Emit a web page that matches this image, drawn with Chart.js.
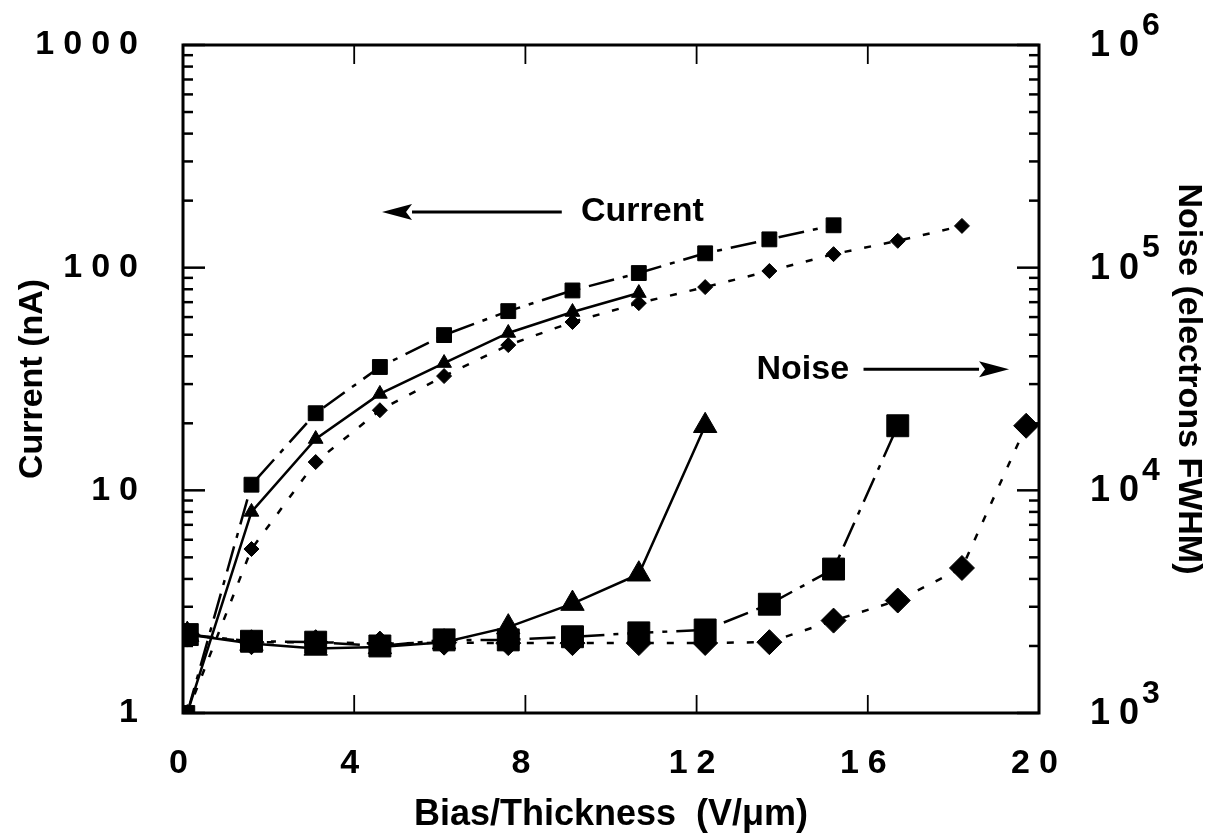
<!DOCTYPE html>
<html>
<head>
<meta charset="utf-8">
<script src="https://cdn.jsdelivr.net/npm/chart.js@4.4.1/dist/chart.umd.min.js"></script>
<style>
  html, body { margin: 0; padding: 0; background: #fff; }
  #wrap { width: 1209px; height: 837px; position: relative; }
</style>
</head>
<body>
<div id="wrap"><canvas id="chart"></canvas></div>
<script>
// bias / thickness (V/um) sample points, shared by every series
const biasX = [0.1, 1.6, 3.1, 4.6, 6.1, 7.6, 9.1, 10.65, 12.2, 13.7, 15.2, 16.7, 18.2, 19.7];

// current (nA), left axis
const currentSquare = [1, 10.6, 22.2, 35.8, 49.8, 63.8, 79, 94.6, 116, 134, 155];
const currentTriangle = [1, 8.0, 17, 27.1, 37.3, 50.9, 63.2, 76.9];
const currentDiamond = [1, 5.45, 13.4, 22.9, 32.6, 44.9, 57, 69.3, 81.8, 96.6, 115, 132, 154];

// noise (electrons FWHM), right axis
const noiseTriangle = [2250, 2050, 1950, 1980, 2080, 2430, 3100, 4200, 19500];
const noiseSquare = [2250, 2100, 2080, 2000, 2130, 2130, 2200, 2290, 2360, 3080, 4430, 19500];
const noiseDiamond = [2250, 2080, 2080, 2050, 2070, 2060, 2060, 2060, 2063, 2080, 2600, 3200, 4480, 19500];

// tick labels
const xTicks = [0, 4, 8, 12, 16, 20];
const xTickLabels = ['0', '4', '8', '12', '16', '20'];
const currentTicks = [1, 10, 100, 1000];
const currentTickLabels = ['1', '10', '100', '1000'];
const noiseTicks = [1e3, 1e4, 1e5, 1e6];
const noiseTickBase = '10';
const noiseTickExp = ['3', '4', '5', '6'];

const FONT = '"Liberation Sans", Arial, Helvetica, sans-serif';
const INK = '#000';

function pts(ys) {
    return ys.map((v, i) => ({ x: biasX[i], y: v }));
}

function series(ys, axis, style, radius, dash) {
    return {
        data: pts(ys),
        yAxisID: axis,
        borderColor: INK,
        backgroundColor: INK,
        borderWidth: 2.5,
        borderDash: dash,
        pointStyle: style,
        pointRadius: radius,
        pointBorderWidth: 1,
        pointBackgroundColor: INK,
        pointBorderColor: INK,
        tension: 0,
        fill: false
    };
}

const dashDot = [26, 9, 5, 9];
const dotted = [7, 13];

// "Current <-" and "Noise ->" labels, placed in data coordinates
const notes = [
    { text: 'Current', x: 9.3, y: 178, axis: 'y', from: 8.85, to: 4.65 },
    { text: 'Noise', x: 13.4, y: 35000, axis: 'y1', from: 15.9, to: 19.3 }
];

// the old typeset tick numbers are widely tracked
const spacedTicks = {
    id: 'spacedTicks',
    beforeDraw(chart) {
        Object.values(chart.scales).forEach(s => {
            if (s._spaced) return;
            const orig = s.drawLabels.bind(s);
            s.drawLabels = area => {
                s.ctx.save();
                s.ctx.letterSpacing = '9px';
                orig(area);
                s.ctx.restore();
            };
            s._spaced = true;
        });
    }
};

// keep tick padding from pushing the plot area down
function noEdgePad(s) {
    s.paddingTop = 0;
    s.paddingBottom = 0;
}

const frameTicks = {
    id: 'frameTicks',
    afterDraw(chart) {
        const ctx = chart.ctx;
        const a = chart.chartArea;
        const { x, y, y1 } = chart.scales;
        ctx.save();
        ctx.strokeStyle = INK;
        ctx.fillStyle = INK;
        ctx.lineWidth = 3;
        ctx.strokeRect(a.left, a.top, a.right - a.left, a.bottom - a.top);

        // log ticks pointing inward on both y axes
        ctx.lineWidth = 2.5;
        [[y, currentTicks, a.left, 1], [y1, noiseTicks, a.right, -1]].forEach(([s, major, edge, dir]) => {
            major.forEach((base, k) => {
                for (let m = 1; m <= 9; m++) {
                    if (k === major.length - 1 && m > 1) break;
                    const py = s.getPixelForValue(base * m);
                    const len = m === 1 ? 22 : 10;
                    ctx.beginPath();
                    ctx.moveTo(edge, py);
                    ctx.lineTo(edge + dir * len, py);
                    ctx.stroke();
                }
            });
        });

        // x ticks on bottom and top
        ctx.lineWidth = 1.8;
        xTicks.slice(1, -1).forEach(v => {
            const px = x.getPixelForValue(v);
            ctx.beginPath();
            ctx.moveTo(px, a.bottom);
            ctx.lineTo(px, a.bottom - 18);
            ctx.moveTo(px, a.top);
            ctx.lineTo(px, a.top + 19);
            ctx.stroke();
        });

        // right axis labels: 10 with a raised exponent
        ctx.textBaseline = 'middle';
        ctx.textAlign = 'left';
        noiseTicks.forEach((v, i) => {
            const py = y1.getPixelForValue(v);
            const lx = a.right + 51;
            ctx.font = 'bold 36px ' + FONT;
            ctx.letterSpacing = '9px';
            ctx.fillText(noiseTickBase, lx, py + 1);
            const w = ctx.measureText(noiseTickBase).width;
            ctx.letterSpacing = '0px';
            ctx.font = 'bold 32px ' + FONT;
            ctx.fillText(noiseTickExp[i], lx + w - 6, py - 19);
        });

        // annotations with arrows
        ctx.font = 'bold 34px ' + FONT;
        notes.forEach(n => {
            const s = chart.scales[n.axis];
            const py = s.getPixelForValue(n.y);
            ctx.fillText(n.text, x.getPixelForValue(n.x), py);
            const p0 = x.getPixelForValue(n.from);
            const p1 = x.getPixelForValue(n.to);
            const dir = p1 > p0 ? 1 : -1;
            const head = 30;
            ctx.lineWidth = 3;
            ctx.beginPath();
            ctx.moveTo(p0, py);
            ctx.lineTo(p1 - dir * head, py);
            ctx.stroke();
            ctx.beginPath();
            ctx.moveTo(p1, py);
            ctx.lineTo(p1 - dir * head, py - 8);
            ctx.lineTo(p1 - dir * (head - 6), py);
            ctx.lineTo(p1 - dir * head, py + 8);
            ctx.closePath();
            ctx.fill();
        });
        ctx.restore();
    }
};

new Chart(document.getElementById('chart'), {
    type: 'line',
    data: {
        datasets: [
            series(currentSquare, 'y', 'rect', 10.5, dashDot),
            series(currentTriangle, 'y', 'triangle', 8.5, []),
            series(currentDiamond, 'y', 'rectRot', 7.5, dotted),
            series(noiseTriangle, 'y1', 'triangle', 13.5, []),
            series(noiseSquare, 'y1', 'rect', 15.5, dashDot),
            series(noiseDiamond, 'y1', 'rectRot', 12.5, dotted)
        ]
    },
    options: {
        responsive: true,
        maintainAspectRatio: false,
        animation: false,
        layout: { padding: { top: 45, left: 0, right: 0, bottom: 0 } },
        plugins: {
            legend: { display: false },
            tooltip: { enabled: false }
        },
        scales: {
            x: {
                type: 'linear',
                min: 0,
                max: 20,
                grid: { display: false, drawTicks: false },
                border: { display: false },
                afterBuildTicks: s => { s.ticks = xTicks.map(v => ({ value: v })); },
                afterFit: s => { s.height = 124; },
                ticks: {
                    color: INK,
                    padding: 30,
                    font: { family: FONT, size: 34, weight: 'bold' },
                    callback: v => xTickLabels[xTicks.indexOf(v)]
                },
                title: {
                    display: true,
                    text: 'Bias/Thickness  (V/\u03BCm)',
                    color: INK,
                    padding: { top: 0, bottom: 0 },
                    font: { family: FONT, size: 36, weight: 'bold' }
                }
            },
            y: {
                type: 'logarithmic',
                position: 'left',
                min: 1,
                max: 1000,
                grid: { display: false, drawTicks: false },
                border: { display: false },
                afterBuildTicks: s => { s.ticks = currentTicks.map(v => ({ value: v })); },
                afterFit: s => { s.width = 183; noEdgePad(s); },
                ticks: {
                    color: INK,
                    padding: 36,
                    font: { family: FONT, size: 34, weight: 'bold' },
                    callback: v => currentTickLabels[currentTicks.indexOf(v)]
                },
                title: {
                    display: true,
                    text: 'Current (nA)',
                    color: INK,
                    padding: { top: 12, bottom: 0 },
                    font: { family: FONT, size: 34, weight: 'bold' }
                }
            },
            y1: {
                type: 'logarithmic',
                position: 'right',
                min: 1e3,
                max: 1e6,
                grid: { display: false, drawTicks: false },
                border: { display: false },
                afterFit: s => { s.width = 170; noEdgePad(s); },
                ticks: { display: false },
                title: {
                    display: true,
                    text: 'Noise (electrons FWHM)',
                    color: INK,
                    padding: { top: 0, bottom: 4 },
                    font: { family: FONT, size: 34, weight: 'bold' }
                }
            }
        }
    },
    plugins: [spacedTicks, frameTicks]
});
</script>
</body>
</html>
